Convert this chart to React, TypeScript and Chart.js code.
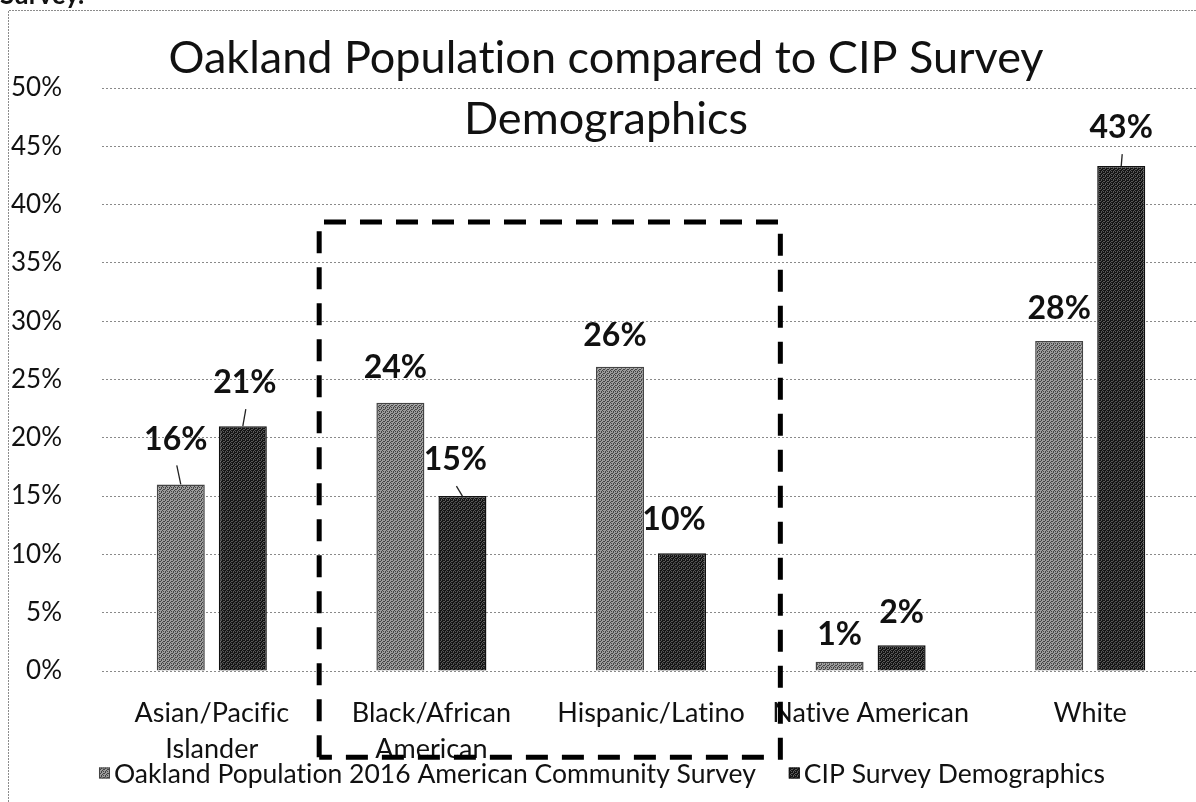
import React, { useEffect, useRef } from "react";
import { Chart, registerables } from "chart.js";

Chart.register(...registerables);

// ---------- data ----------
const categories: (string | string[])[] = [
  ["Asian/Pacific", "Islander"],
  ["Black/African", "American"],
  "Hispanic/Latino",
  "Native American",
  "White",
];
const populationValues = [16, 23, 26.1, 0.8, 28.3];
const surveyValues = [21, 15, 10.1, 2.2, 43.3];
const populationLabels = ["16%", "24%", "26%", "1%", "28%"];
const surveyLabels = ["21%", "15%", "10%", "2%", "43%"];
const seriesNames = [
  "Oakland Population 2016 American Community Survey",
  "CIP Survey Demographics",
];
const titleLines = ["Oakland Population compared to CIP Survey", "Demographics"];
const yMin = 0;
const yMax = 50;
const yStep = 5;
// highlight box in data units: [x from, x to, y top, y bottom]
const highlightBox = [0.489, 2.589, 38.5, -7.4];

// ---------- label placement (style) ----------
const populationLabelOffsets = [
  { dx: -5, dy: 45, leader: true },
  { dx: -5, dy: 35, leader: false },
  { dx: -5, dy: 31, leader: false },
  { dx: 0, dy: 27, leader: false },
  { dx: 0, dy: 32, leader: false },
];
const surveyLabelOffsets = [
  { dx: 2, dy: 43, leader: true },
  { dx: -7, dy: 36, leader: true },
  { dx: -8, dy: 34, leader: false },
  { dx: 0, dy: 33, leader: false },
  { dx: 0, dy: 38, leader: true },
];

const FONT = "Lato, 'Open Sans', sans-serif";
const W = 1204;
const H = 802;

function makePattern(light: string, dark: string, m: number[][]) {
  const c = document.createElement("canvas");
  c.width = 4;
  c.height = 4;
  const g = c.getContext("2d")!;
  for (let y = 0; y < 4; y++)
    for (let x = 0; x < 4; x++) {
      g.fillStyle = m[y][x] ? light : dark;
      g.fillRect(x, y, 1, 1);
    }
  return g.createPattern(c, "repeat")!;
}

function noLigatures(ctx: any) {
  try {
    ctx.textRendering = "optimizeSpeed";
    ctx.letterSpacing = "0.01px";
  } catch (e) {
    /* ignore */
  }
}

export default function App() {
  const ref = useRef<HTMLCanvasElement>(null);

  useEffect(() => {
    const canvas = ref.current!;
    const popPattern = makePattern("#9c9c9c", "#444444", [
      [1, 0, 1, 1],
      [0, 1, 1, 0],
      [1, 1, 0, 1],
      [1, 0, 1, 0],
    ]);
    const cipPattern = makePattern("#585858", "#141414", [
      [0, 1, 0, 0],
      [1, 0, 0, 1],
      [0, 0, 1, 0],
      [0, 1, 0, 1],
    ]);

    const overlay = {
      id: "overlay",
      beforeDraw(chart: any) {
        const ctx = chart.ctx as CanvasRenderingContext2D;
        noLigatures(ctx);
        ctx.save();
        ctx.fillStyle = "#ffffff";
        ctx.fillRect(0, 0, chart.width, chart.height);
        // outer frame (dotted)
        ctx.strokeStyle = "#8c8c8c";
        ctx.lineWidth = 1;
        ctx.setLineDash([2, 1]);
        ctx.beginPath();
        ctx.moveTo(8.5, chart.height);
        ctx.lineTo(8.5, 10.5);
        ctx.lineTo(chart.width, 10.5);
        ctx.stroke();
        ctx.setLineDash([]);
        // clipped caption fragment above the frame
        ctx.fillStyle = "#111";
        ctx.font = `bold 26px ${FONT}`;
        ctx.textAlign = "left";
        ctx.textBaseline = "alphabetic";
        ctx.fillText("Survey.", 0, 4);
        // title
        ctx.font = `45px ${FONT}`;
        ctx.textAlign = "center";
        ctx.fillStyle = "#111";
        ctx.fillText(titleLines[0], 606, 73);
        ctx.fillText(titleLines[1], 606, 134);
        ctx.restore();
      },
      afterDraw(chart: any) {
        const ctx = chart.ctx as CanvasRenderingContext2D;
        ctx.save();
        noLigatures(ctx);
        // data labels
        const sets = [
          { labels: populationLabels, offs: populationLabelOffsets },
          { labels: surveyLabels, offs: surveyLabelOffsets },
        ];
        ctx.font = `bold 32px ${FONT}`;
        ctx.textAlign = "center";
        ctx.textBaseline = "middle";
        ctx.fillStyle = "#111";
        ctx.strokeStyle = "#222";
        ctx.lineWidth = 1.3;
        sets.forEach((s, di) => {
          const meta = chart.getDatasetMeta(di);
          meta.data.forEach((el: any, i: number) => {
            const o = s.offs[i];
            const cx = el.x + o.dx;
            const cy = el.y - o.dy;
            ctx.fillText(s.labels[i], cx, cy);
            if (o.leader) {
              ctx.beginPath();
              ctx.moveTo(cx + 1, cy + 26);
              ctx.lineTo(el.x, el.y);
              ctx.stroke();
            }
          });
        });

        // legend
        const legendY = 773;
        ctx.font = `26.5px ${FONT}`;
        ctx.textBaseline = "middle";
        ctx.textAlign = "left";
        const box = 11;
        const gapBoxText = 4;
        const itemGap = 33;
        const w0 = ctx.measureText(seriesNames[0]).width;
        const w1 = ctx.measureText(seriesNames[1]).width;
        const total = box + gapBoxText + w0 + itemGap + box + gapBoxText + w1;
        let lx = chart.width / 2 - total / 2;
        const pats = [popPattern, cipPattern];
        const borders = ["#444", "#111"];
        [w0, w1].forEach((w, i) => {
          ctx.fillStyle = pats[i];
          ctx.fillRect(lx, legendY - box / 2, box, box);
          ctx.strokeStyle = borders[i];
          ctx.lineWidth = 1;
          ctx.strokeRect(lx + 0.5, legendY - box / 2 + 0.5, box - 1, box - 1);
          ctx.fillStyle = "#111";
          ctx.fillText(seriesNames[i], lx + box + gapBoxText, legendY + 1);
          lx += box + gapBoxText + w + itemGap;
        });

        // dashed highlight box
        const xs = chart.scales.x;
        const ys = chart.scales.y;
        const left = xs.getPixelForValue(highlightBox[0]);
        const right = xs.getPixelForValue(highlightBox[1]);
        const top = ys.getPixelForValue(highlightBox[2]);
        const bottom = ys.getPixelForValue(highlightBox[3]);
        ctx.strokeStyle = "#000";
        ctx.lineWidth = 5;
        ctx.setLineDash([22, 14]);
        ctx.beginPath();
        ctx.moveTo(left, bottom);
        ctx.lineTo(left, top);
        ctx.lineTo(right, top);
        ctx.lineTo(right, bottom);
        ctx.lineTo(left, bottom);
        ctx.stroke();
        ctx.restore();
      },
    };

    const chart = new Chart(canvas, {
      type: "bar",
      data: {
        labels: categories as any,
        datasets: [
          {
            label: seriesNames[0],
            data: populationValues,
            backgroundColor: popPattern as any,
            borderColor: "#444",
            borderWidth: 1.5,
            barPercentage: 0.774,
            categoryPercentage: 0.565,
          },
          {
            label: seriesNames[1],
            data: surveyValues,
            backgroundColor: cipPattern as any,
            borderColor: "#111",
            borderWidth: 1.5,
            barPercentage: 0.774,
            categoryPercentage: 0.565,
          },
        ],
      },
      options: {
        responsive: false,
        animation: false,
        events: [],
        layout: { padding: { left: 10, right: 4, top: 88, bottom: 0 } },
        plugins: {
          legend: { display: false },
          tooltip: { enabled: false },
          title: { display: false },
        },
        scales: {
          x: {
            grid: { display: false },
            border: { display: false },
            ticks: {
              color: "#111",
              font: { family: FONT, size: 27, lineHeight: 1.34 },
              padding: 16,
              maxRotation: 0,
              autoSkip: false,
            },
            afterFit: (axis: any) => {
              axis.height = 131;
            },
          },
          y: {
            min: yMin,
            max: yMax,
            grid: { color: "#8a8a8a", lineWidth: 1, drawTicks: false },
            border: { display: false, dash: [2, 2] },
            ticks: {
              stepSize: yStep,
              color: "#111",
              font: { family: FONT, size: 26 },
              padding: 40,
              callback: (v: any) => `${v}%`,
            },
            afterFit: (axis: any) => {
              axis.width = 92;
            },
          },
        },
      },
      plugins: [overlay],
    });
    return () => chart.destroy();
  }, []);

  return (
    <div
      style={{
        position: "absolute",
        left: 0,
        top: 0,
        width: 1196,
        height: 802,
        overflow: "hidden",
        background: "#fff",
      }}
    >
      <canvas ref={ref} width={W} height={H} style={{ display: "block" }} />
    </div>
  );
}
